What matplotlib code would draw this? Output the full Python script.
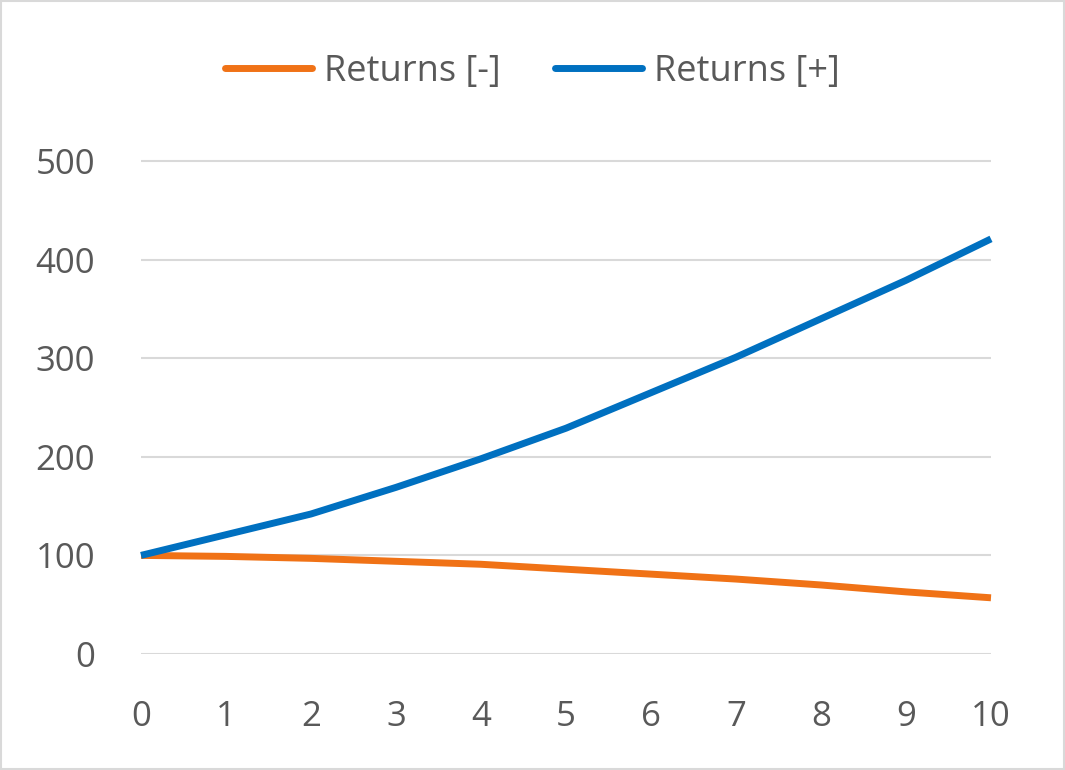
import matplotlib.pyplot as plt
from matplotlib.patches import Rectangle

years = list(range(11))
returns_neg = [100, 99, 97, 94, 91, 86, 81, 76, 70, 63, 57]
returns_pos = [100, 121, 142, 169, 198, 229, 265, 301, 340, 379, 421]

plt.rcParams["font.family"] = ["Open Sans", "DejaVu Sans"]

fig = plt.figure(figsize=(10.65, 7.7), dpi=100)
ax = fig.add_axes([141 / 1065, 1 - 654 / 770, 850 / 1065, (654 - 150) / 770])

ax.plot(years, returns_neg, color="#f07216", lw=5, label="Returns [-]", solid_capstyle="butt")
ax.plot(years, returns_pos, color="#0070c0", lw=5, label="Returns [+]", solid_capstyle="butt")

ax.set_xlim(0, 10)
ax.set_ylim(0, 500 * (654 - 150) / (654 - 161))
ax.set_yticks(range(0, 501, 100))
ax.set_xticks(years)
ax.grid(axis="y", color="#d9d9d9", lw=1.5)
ax.set_axisbelow(True)
for s in ax.spines.values():
    s.set_visible(False)
ax.tick_params(length=0, labelsize=25, colors="#595959")
ax.tick_params(axis="x", pad=33)
ax.tick_params(axis="y", pad=33)
for line in ax.lines:
    line.set_clip_on(False)

leg = fig.legend(loc="center", bbox_to_anchor=(0.5, 1 - 72 / 770), ncol=2, frameon=False,
                 fontsize=26, handlelength=2.4, columnspacing=1.5, handletextpad=0.35)
for t in leg.get_texts():
    t.set_color("#595959")
for h in leg.get_lines():
    h.set_solid_capstyle("round")
    h.set_linewidth(5)

fig.patches.append(Rectangle((0.001, 0.001), 0.998, 0.998, transform=fig.transFigure,
                             fill=False, edgecolor="#d9d9d9", lw=1.5))

fig.savefig("out.png", dpi=100)
